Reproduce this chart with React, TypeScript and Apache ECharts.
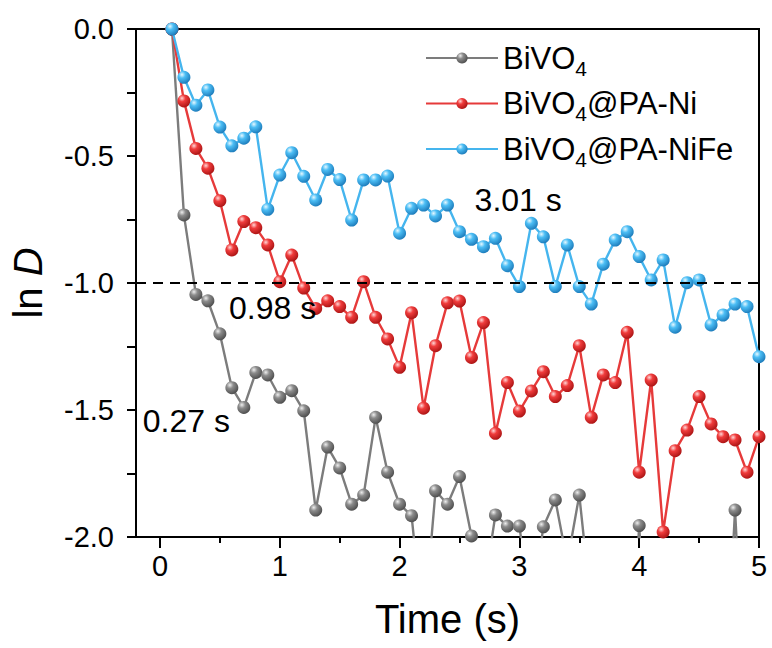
import React, { useEffect, useRef } from 'react';
import * as echarts from 'echarts';

const time = [
  0.1, 0.2, 0.3, 0.4, 0.5, 0.6, 0.7, 0.8, 0.9, 1.0,
  1.1, 1.2, 1.3, 1.4, 1.5, 1.6, 1.7, 1.8, 1.9, 2.0,
  2.1, 2.2, 2.3, 2.4, 2.5, 2.6, 2.7, 2.8, 2.9, 3.0,
  3.1, 3.2, 3.3, 3.4, 3.5, 3.6, 3.7, 3.8, 3.9, 4.0,
  4.1, 4.2, 4.3, 4.4, 4.5, 4.6, 4.7, 4.8, 4.9, 5.0,
];

const bivo4 = [
  0, -0.732, -1.045, -1.07, -1.2, -1.412, -1.49, -1.352, -1.362, -1.45,
  -1.424, -1.503, -1.894, -1.646, -1.728, -1.871, -1.835, -1.529, -1.745, -1.871,
  -1.916, -2.37, -1.818, -1.871, -1.762, -1.996, -2.22, -1.913, -1.957, -1.957,
  -2.3, -1.96, -1.854, -2.1, -1.835, -2.28, -2.4, -2.5, -2.8, -1.955,
  -2.8, -2.5, -2.4, -2.6, -2.5, -2.4, -2.8, -1.894, -2.8, -2.6,
];

const bivo4Ni = [
  0, -0.283, -0.47, -0.548, -0.676, -0.87, -0.758, -0.782, -0.85, -0.995,
  -0.89, -1.02, -1.1, -1.07, -1.093, -1.135, -0.995, -1.135, -1.22, -1.332,
  -1.117, -1.493, -1.247, -1.078, -1.071, -1.293, -1.156, -1.592, -1.392, -1.504,
  -1.425, -1.349, -1.447, -1.404, -1.247, -1.529, -1.362, -1.392, -1.194, -1.745,
  -1.382, -1.98, -1.66, -1.579, -1.447, -1.555, -1.605, -1.618, -1.745, -1.605,
];

const bivo4NiFe = [
  0, -0.19, -0.3, -0.24, -0.386, -0.46, -0.43, -0.385, -0.71, -0.575,
  -0.487, -0.58, -0.673, -0.553, -0.593, -0.752, -0.594, -0.594, -0.579, -0.804,
  -0.706, -0.693, -0.736, -0.693, -0.798, -0.828, -0.857, -0.824, -0.932, -1.014,
  -0.765, -0.818, -1.014, -0.85, -1.014, -1.083, -0.926, -0.831, -0.798, -0.896,
  -0.988, -0.909, -1.174, -0.999, -0.988, -1.165, -1.126, -1.083, -1.093, -1.29,
];

const seriesNames = ['BiVO4', 'BiVO4@PA-Ni', 'BiVO4@PA-NiFe'];
const xTickValues = [0, 1, 2, 3, 4, 5];
const xMinorTickValues = [0.5, 1.5, 2.5, 3.5, 4.5];
const thresholdValue = -1;
const annotationTexts = ['0.27 s', '0.98 s', '3.01 s'];
const annotationCoords = [
  [0.22, -1.543],
  [0.94, -1.098],
  [2.99, -0.673],
];

const FONT = '"Liberation Sans", Arial, Helvetica, sans-serif';

function sphere(light: string, mid: string, dark: string) {
  return new echarts.graphic.RadialGradient(0.35, 0.3, 0.75, [
    { offset: 0, color: light },
    { offset: 0.35, color: mid },
    { offset: 1, color: dark },
  ]);
}

export default function App() {
  const ref = useRef<HTMLDivElement>(null);

  useEffect(() => {
    if (!ref.current) return;
    const chart = echarts.init(ref.current, undefined, { renderer: 'svg' });

    const lineColors = ['#7c7c7c', '#e63a3a', '#45b5ee'];
    const fills = [
      sphere('#eeeeee', '#8c8c8c', '#4a4a4a'),
      sphere('#ffd6d6', '#f03c3c', '#a81212'),
      sphere('#e6f8ff', '#4cbef5', '#1a78b8'),
    ];
    const values = [bivo4, bivo4Ni, bivo4NiFe];

    const series: any[] = values.map((vals, i) => ({
      name: seriesNames[i],
      type: 'line',
      xAxisIndex: 0,
      data: time.map((t, j) => [t, vals[j]]),
      symbol: 'circle',
      symbolSize: 13,
      showAllSymbol: true,
      clip: true,
      lineStyle: { color: lineColors[i], width: 2.4 },
      itemStyle: { color: fills[i], borderWidth: 0 },
      z: 2 + i,
    }));

    series[2].markLine = {
      silent: true,
      symbol: 'none',
      label: { show: false },
      lineStyle: { color: '#000', type: [10, 7], width: 2 },
      data: [{ yAxis: thresholdValue }],
    };
    series[2].markPoint = {
      silent: true,
      data: annotationTexts.map((txt, k) => ({
        coord: annotationCoords[k],
        symbol: 'rect',
        symbolSize: 0,
        label: {
          show: true,
          position: 'inside',
          formatter: txt,
          color: '#000',
          fontSize: 32,
          fontFamily: FONT,
        },
      })),
    };

    chart.setOption({
      animation: false,
      backgroundColor: '#fff',
      grid: {
        left: 133,
        right: 13,
        top: 29,
        bottom: 111,
        show: true,
        borderColor: '#000',
        borderWidth: 2,
        backgroundColor: 'transparent',
      },
      legend: {
        orient: 'vertical',
        left: 420,
        top: 36,
        itemWidth: 72,
        itemHeight: 14,
        itemGap: 8,
        data: seriesNames,
        formatter: (name: string) => name.replace('BiVO4', 'BiVO{sub|4}'),
        textStyle: {
          fontSize: 31,
          fontFamily: FONT,
          color: '#000',
          lineHeight: 34,
          rich: {
            sub: { fontSize: 21, fontFamily: FONT, color: '#000', padding: [20, 0, 0, 0] },
          },
        },
      },
      xAxis: [
        {
          type: 'value',
          min: -0.2,
          max: 5,
          position: 'bottom',
          name: 'Time (s)',
          nameLocation: 'middle',
          nameGap: 62,
          nameTextStyle: { fontSize: 40, fontFamily: FONT, color: '#000' },
          axisLine: { show: true, onZero: false, lineStyle: { color: '#000', width: 2 } },
          axisTick: {
            show: true,
            inside: false,
            length: 11,
            customValues: xTickValues,
            lineStyle: { color: '#000', width: 2 },
          },
          axisLabel: {
            show: true,
            customValues: xTickValues,
            fontSize: 29,
            fontFamily: FONT,
            color: '#000',
            margin: 14,
          },
          splitLine: { show: false },
        },
        {
          type: 'value',
          min: -0.2,
          max: 5,
          position: 'bottom',
          offset: 0,
          axisLine: { show: false, onZero: false },
          axisTick: {
            show: true,
            inside: false,
            length: 6,
            customValues: xMinorTickValues,
            lineStyle: { color: '#000', width: 2 },
          },
          axisLabel: { show: false },
          splitLine: { show: false },
        },
      ],
      yAxis: {
        type: 'value',
        min: -2,
        max: 0,
        interval: 0.25,
        name: 'ln {i|D}',
        nameLocation: 'middle',
        nameGap: 88,
        nameRotate: 90,
        nameTextStyle: {
          fontSize: 40,
          fontFamily: FONT,
          color: '#000',
          rich: { i: { fontSize: 40, fontStyle: 'italic', fontFamily: FONT, color: '#000' } },
        },
        axisLine: { show: true, onZero: false, lineStyle: { color: '#000', width: 2 } },
        axisTick: { show: true, inside: false, length: 9, lineStyle: { color: '#000', width: 2 } },
        axisLabel: {
          fontSize: 29,
          fontFamily: FONT,
          color: '#000',
          margin: 22,
          formatter: (v: number) => {
            const d = v * 2;
            return Math.abs(d - Math.round(d)) < 1e-6 ? (v === 0 ? '0.0' : v.toFixed(1)) : '';
          },
        },
        splitLine: { show: false },
      },
      series,
    });

    return () => {
      chart.dispose();
    };
  }, []);

  return (
    <div
      ref={ref}
      style={{ position: 'fixed', left: 0, top: 0, width: 772, height: 648, background: '#fff' }}
    />
  );
}
